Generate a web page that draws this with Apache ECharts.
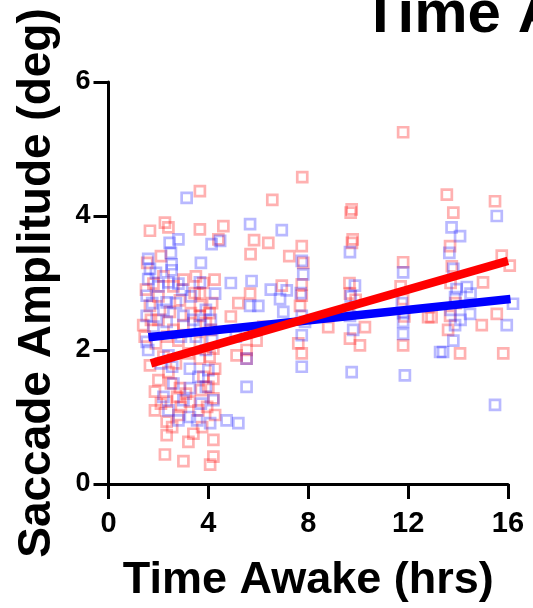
<!DOCTYPE html>
<html>
<head>
<meta charset="utf-8">
<script src="https://cdn.jsdelivr.net/npm/echarts@6/dist/echarts.min.js"></script>
<style>html,body{margin:0;padding:0;background:#fff;}#c{width:533px;height:608px;}</style>
</head>
<body>
<div id="c"></div>
<script>
const titleText = "Time Awake";
const xName = "Time Awake (hrs)";
const yName = "Saccade Amplitude (deg)";
const xTicks = [0, 4, 8, 12, 16];
const yTicks = [0, 2, 4, 6];

const redPoints = [
  [1.66,3.78],[2.26,3.9],[2.4,3.83],[3.66,3.8],[3.66,4.37],[1.8,2.99],[3.66,2.84],[1.66,2.66],[2.86,2.74],[3.66,2.66],
  [2.46,2.57],[3.66,2.51],[1.39,2.37],[3.0,2.37],[2.8,2.14],[3.66,2.12],[4.2,2.02],[1.66,1.77],[3.66,1.87],[4.27,1.72],
  [4.2,1.57],[1.86,1.38],[2.4,1.67],[2.86,1.43],[1.86,1.1],[2.33,1.23],[3.26,1.23],[4.2,1.28],[2.8,1.03],[2.33,0.93],
  [4.27,1.03],[2.33,0.73],[3.2,0.63],[4.2,0.66],[2.26,0.44],[3.0,0.34],[4.2,0.41],[4.07,0.29],
  [1.5,2.9],[2.0,2.8],[2.2,3.1],[2.6,2.95],[3.0,3.05],[3.5,3.1],[3.8,3.0],[1.45,2.2],[2.0,2.45],[2.6,2.3],[3.3,2.55],
  [3.9,2.4],[4.1,2.3],[2.2,1.9],[2.7,1.8],[3.2,1.95],[3.8,1.6],[2.5,1.5],[3.1,1.35],[3.7,1.4],[2.1,1.2],[2.9,1.15],
  [3.6,1.1],[4.0,1.45],[4.05,1.9],[2.55,0.85],[3.75,0.85],[3.4,0.75],[1.55,3.3],[2.1,3.4],[4.15,2.7],[4.25,3.05],[1.9,2.1],
  [1.7,2.45],[2.35,2.2],[3.45,2.85],[4.05,2.55],[2.75,1.3],[3.95,1.15],[2.0,1.55],[4.4,3.65],[4.6,3.85],
  [5.83,3.64],[6.4,3.6],[5.69,3.43],[7.24,3.40],[7.76,4.58],[6.56,4.24],[7.74,2.98],[6.94,2.96],[5.67,2.84],[7.74,2.81],
  [7.67,2.66],[8.8,2.34],[5.93,2.14],[5.53,2.0],[7.74,1.95],[5.53,1.87],[5.13,1.92],[7.74,3.55],[4.9,2.5],[5.2,2.7],
  [6.2,2.35],[7.8,3.3],[7.6,2.1],
  [11.8,5.25],[9.74,4.1],[9.78,3.65],[11.8,3.31],[9.67,2.84],[11.8,2.76],[12.8,2.49],[10.27,2.34],[9.67,2.17],[10.07,2.07],
  [11.8,2.07],[13.55,4.32],[15.48,4.22],[13.81,4.05],[13.68,3.55],[15.75,3.41],[16.07,3.26],[15.0,3.01],[12.94,2.49],[13.68,2.51],
  [15.55,2.54],[14.95,2.37],[14.08,1.95],[15.81,1.95],[9.7,4.05],[9.75,3.6],[11.7,2.95],[9.6,2.6],[13.7,3.0],[13.9,2.7],
  [13.6,2.3],[13.75,3.25],[11.85,2.5],[9.9,2.75],[9.65,3.0]
];

const bluePoints = [
  [3.13,4.27],[2.8,3.65],[4.13,3.58],[4.47,3.63],[1.59,3.36],[2.53,3.28],[1.66,3.21],[2.53,3.19],[1.59,3.06],[2.4,3.01],
  [2.8,2.99],[3.66,3.01],[4.27,2.84],[1.53,2.81],[2.33,2.71],[1.53,2.51],[3.0,2.51],[2.33,2.42],[3.66,2.37],[1.53,2.12],
  [1.59,2.0],[2.4,1.92],[3.26,1.72],[3.26,1.43],[2.4,1.1],[3.26,1.0],[4.07,0.91],[4.73,0.95],[5.2,0.91],[4.2,1.25],
  [2.0,2.95],[2.2,2.6],[2.7,2.7],[3.3,2.8],[3.9,2.6],[3.5,2.2],[2.9,2.2],[2.1,1.8],[2.6,1.5],[3.0,1.25],
  [3.7,1.2],[4.0,1.7],[2.8,0.95],[3.9,2.0],[1.8,2.35],[2.5,3.45],[3.7,3.3],[4.1,2.45],[2.2,1.3],[3.55,0.95],[3.9,1.45],[1.9,3.15],
  [1.75,2.7],[2.95,2.9],[3.4,2.45],[4.15,2.15],[2.55,1.75],[3.6,1.6],[2.45,3.6],
  [5.67,3.88],[6.94,3.79],[7.74,3.33],[7.8,3.13],[5.73,3.03],[7.14,2.89],[6.87,2.76],[6.0,2.66],[5.67,2.66],[7.0,2.57],
  [7.74,2.51],[7.87,2.42],[7.74,2.22],[7.74,1.75],[5.53,1.45],[5.53,1.87],[4.9,3.0],[5.1,2.2],[6.5,2.9],[7.7,2.85],
  [9.67,3.46],[9.87,2.96],[11.8,3.16],[9.67,2.51],[11.8,2.42],[11.8,2.24],[9.74,1.67],[11.87,1.62],[13.28,1.97],[15.55,4.0],
  [13.74,3.83],[14.08,3.7],[13.81,3.21],[13.94,2.91],[14.35,2.94],[14.5,2.84],[13.88,2.79],[16.2,2.69],[14.48,2.54],[15.95,2.37],
  [13.88,2.37],[13.81,2.14],[13.4,1.97],[15.48,1.18],[9.7,2.8],[11.75,2.7],[11.8,2.55],[9.8,2.3],[13.7,2.6],[14.1,2.45],[13.65,3.45]
];

const redFit = [[1.7,1.8],[16.0,3.33]];
const blueFit = [[1.6,2.19],[16.1,2.76]];

const FONT = '"Liberation Sans", Arial, Helvetica, sans-serif';
const chart = echarts.init(document.getElementById('c'), null, {renderer:'canvas'});

function scatter(name, data, rgba) {
  return {
    type: 'scatter', name, data, clip: false, symbol: 'rect', symbolSize: 10,
    itemStyle: { color: 'rgba(0,0,0,0)', borderColor: rgba, borderWidth: 2.7 },
    emphasis: { disabled: true }, silent: true
  };
}
function fit(name, data, color) {
  return {
    type: 'line', name, data, clip: false, symbol: 'none', silent: true,
    lineStyle: { color, width: 8.5, cap: 'butt' }, z: 5
  };
}

chart.setOption({
  animation: false,
  backgroundColor: '#fff',
  title: {
    text: titleText, left: 357, top: -20,
    textStyle: { fontFamily: FONT, fontWeight: 'bold', fontSize: 60, color: '#000' }
  },
  grid: { left: 108.5, right: 25, top: 82, bottom: 122, containLabel: false },
  xAxis: {
    type: 'value', min: xTicks[0], max: xTicks[xTicks.length-1], interval: 4,
    name: xName, nameLocation: 'middle', nameGap: 74,
    nameTextStyle: { fontFamily: FONT, fontWeight: 'bold', fontSize: 45, color: '#000' },
    axisLine: { show: true, onZero: false, lineStyle: { color: '#000', width: 3 } },
    axisTick: { show: true, length: 15, lineStyle: { color: '#000', width: 3 } },
    axisLabel: { margin: 25, fontFamily: FONT, fontWeight: 'bold', fontSize: 29, color: '#000' },
    splitLine: { show: false }
  },
  yAxis: {
    type: 'value', min: yTicks[0], max: yTicks[yTicks.length-1], interval: 2,
    name: yName, nameLocation: 'middle', nameGap: 48,
    nameTextStyle: { fontFamily: FONT, fontWeight: 'bold', fontSize: 46, color: '#000' },
    axisLine: { show: true, onZero: false, lineStyle: { color: '#000', width: 3 } },
    axisTick: { show: true, length: 15, lineStyle: { color: '#000', width: 3 } },
    axisLabel: { margin: 18, fontFamily: FONT, fontWeight: 'bold', fontSize: 27, color: '#000' },
    splitLine: { show: false }
  },
  series: [
    scatter('Red', redPoints, 'rgba(255,0,0,0.38)'),
    scatter('Blue', bluePoints, 'rgba(0,0,255,0.34)'),
    fit('Blue fit', blueFit, '#0000ff'),
    fit('Red fit', redFit, '#ff0000')
  ]
});
</script>
</body>
</html>
